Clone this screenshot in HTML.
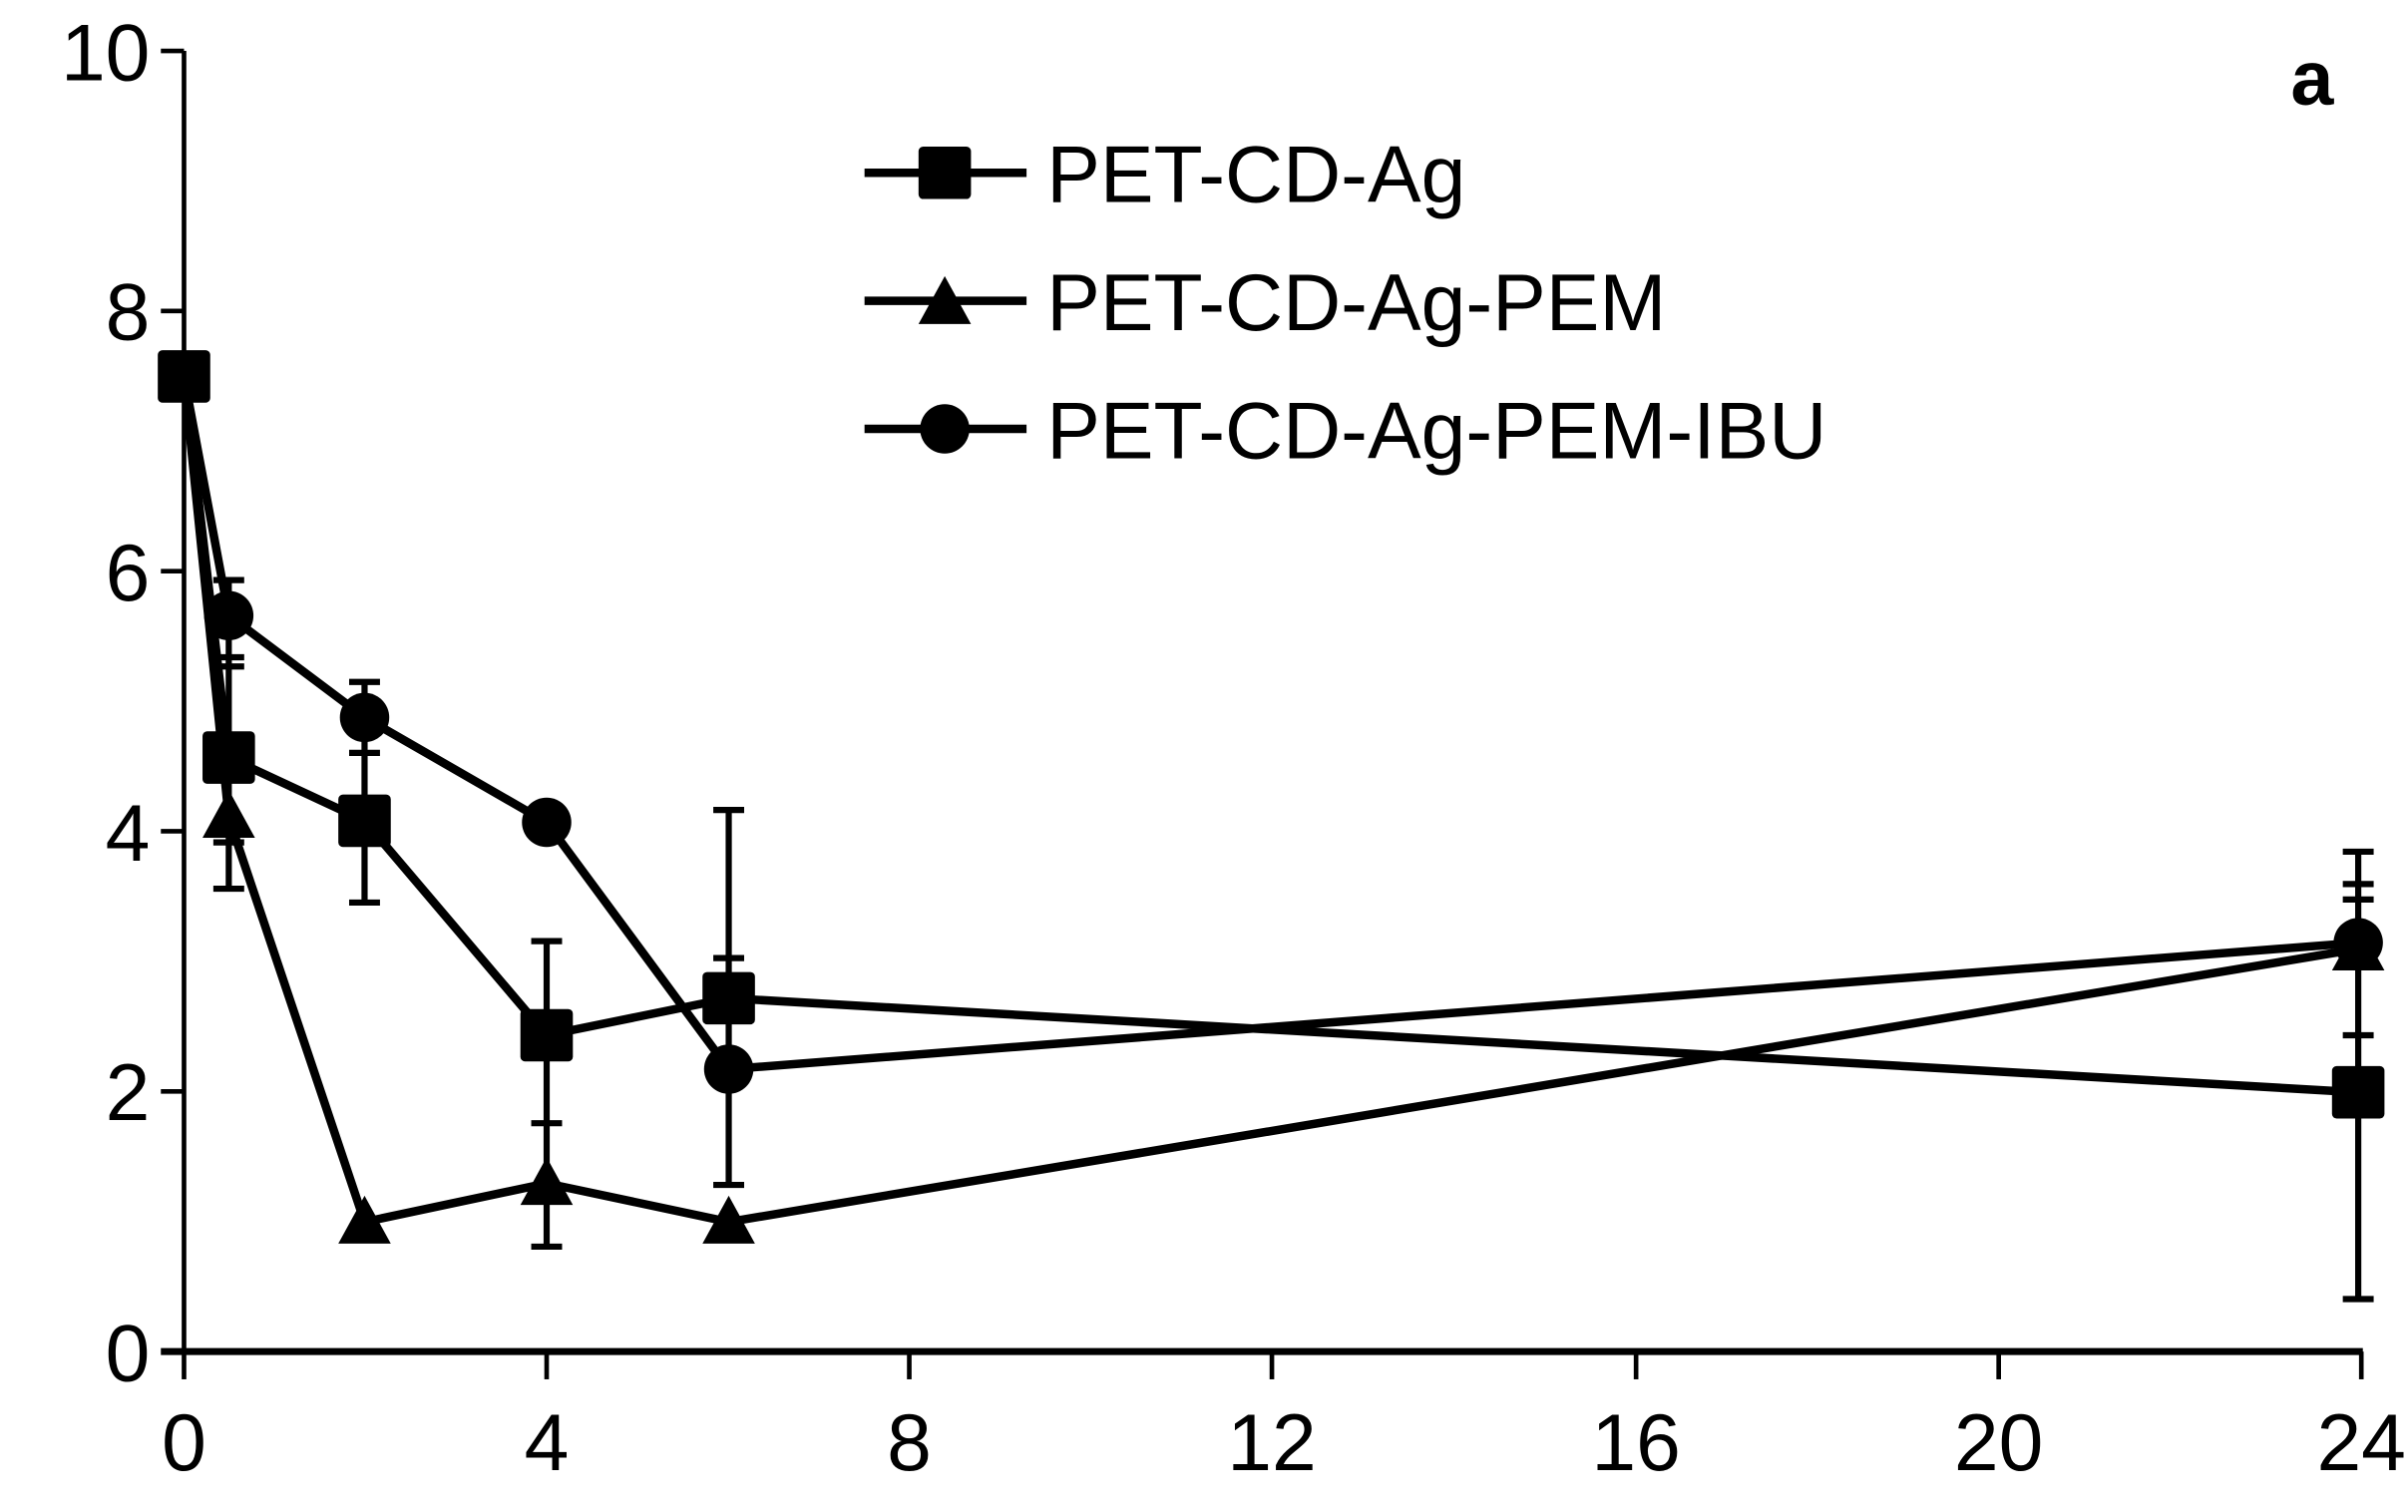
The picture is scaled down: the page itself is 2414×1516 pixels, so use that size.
<!DOCTYPE html>
<html><head><style>html,body{margin:0;padding:0;background:#fff}svg{display:block}</style></head>
<body>
<svg width="2414" height="1516" viewBox="0 0 1560 980" xmlns="http://www.w3.org/2000/svg" font-family="Liberation Sans, Arial, sans-serif">
<rect width="1560" height="980" fill="#fff"/>
<g stroke="#000" stroke-width="3" fill="none">
<line x1="119" y1="33" x2="119" y2="877"/>
<line x1="104" y1="876" x2="1531" y2="876" stroke-width="4.5"/>
<line x1="104" y1="33" x2="119" y2="33"/><line x1="104" y1="201.6" x2="119" y2="201.6"/><line x1="104" y1="370.2" x2="119" y2="370.2"/><line x1="104" y1="538.8" x2="119" y2="538.8"/><line x1="104" y1="707.4" x2="119" y2="707.4"/>
<line x1="119" y1="876" x2="119" y2="894"/><line x1="354" y1="876" x2="354" y2="894"/><line x1="589" y1="876" x2="589" y2="894"/><line x1="824" y1="876" x2="824" y2="894"/><line x1="1060" y1="876" x2="1060" y2="894"/><line x1="1295" y1="876" x2="1295" y2="894"/><line x1="1530" y1="876" x2="1530" y2="894"/>
</g>
<g font-size="52" fill="#000" text-anchor="end">
<text x="97" y="52">10</text><text x="97" y="220">8</text><text x="97" y="389">6</text><text x="97" y="558">4</text><text x="97" y="726">2</text><text x="97" y="895">0</text>
</g>
<g font-size="52" fill="#000" text-anchor="middle">
<text x="119" y="953">0</text><text x="354" y="953">4</text><text x="589" y="953">8</text><text x="824" y="953">12</text><text x="1060" y="953">16</text><text x="1295" y="953">20</text><text x="1530" y="953">24</text>
</g>
<text x="1512" y="68" font-size="50" font-weight="bold" text-anchor="end">a</text>
<g stroke="#000" stroke-width="4">
<line x1="148" y1="376" x2="148" y2="576"/>
<line x1="138" y1="376" x2="158" y2="376"/><line x1="138" y1="426" x2="158" y2="426"/><line x1="138" y1="432" x2="158" y2="432"/><line x1="138" y1="546" x2="158" y2="546"/><line x1="138" y1="576" x2="158" y2="576"/>
<line x1="236" y1="442" x2="236" y2="585"/>
<line x1="226" y1="442" x2="246" y2="442"/><line x1="226" y1="488" x2="246" y2="488"/><line x1="226" y1="585" x2="246" y2="585"/>
<line x1="354" y1="610" x2="354" y2="808"/>
<line x1="344" y1="610" x2="364" y2="610"/><line x1="344" y1="728" x2="364" y2="728"/><line x1="344" y1="808" x2="364" y2="808"/>
<line x1="472" y1="525" x2="472" y2="768"/>
<line x1="462" y1="525" x2="482" y2="525"/><line x1="462" y1="621" x2="482" y2="621"/><line x1="462" y1="768" x2="482" y2="768"/>
<line x1="1528" y1="552" x2="1528" y2="842"/>
<line x1="1518" y1="552" x2="1538" y2="552"/><line x1="1518" y1="573" x2="1538" y2="573"/><line x1="1518" y1="583" x2="1538" y2="583"/><line x1="1518" y1="671" x2="1538" y2="671"/><line x1="1518" y1="700" x2="1538" y2="700"/><line x1="1518" y1="842" x2="1538" y2="842"/>
</g>
<g stroke="#000" stroke-width="5.5" fill="none" stroke-linejoin="round">
<polyline points="119,244 148,491 236,532 354,671 472,647 1528,708"/>
<polyline points="119,244 148,530 236,792 354,767 472,792 1528,615"/>
<polyline points="119,244 148,399 236,465 354,533 472,693 1528,611"/>
</g>
<g fill="#000">
<rect x="102" y="227" width="34" height="34" rx="3"/>
<rect x="131" y="474" width="34" height="34" rx="3"/><rect x="219" y="515" width="34" height="34" rx="3"/><rect x="337" y="654" width="34" height="34" rx="3"/><rect x="455" y="630" width="34" height="34" rx="3"/><rect x="1511" y="691" width="34" height="34" rx="3"/>
<polygon points="148,512 131,543 165,543"/><polygon points="236,775 219,806 253,806"/><polygon points="354,750 337,781 371,781"/><polygon points="472,775 455,806 489,806"/><polygon points="1528,598 1511,629 1545,629"/>
<circle cx="148" cy="399" r="16"/><circle cx="236" cy="465" r="16"/><circle cx="354" cy="533" r="16"/><circle cx="472" cy="693" r="16"/><circle cx="1528" cy="611" r="16"/>
</g>
<g stroke="#000" stroke-width="5.5">
<line x1="560" y1="112" x2="665" y2="112"/><line x1="560" y1="195" x2="665" y2="195"/><line x1="560" y1="278" x2="665" y2="278"/>
</g>
<g fill="#000">
<rect x="595" y="95" width="34" height="34" rx="3"/>
<polygon points="612,179 595,210 629,210"/>
<circle cx="612" cy="278" r="16"/>
</g>
<g font-size="52" fill="#000">
<text x="678" y="131">PET-CD-Ag</text>
<text x="678" y="214">PET-CD-Ag-PEM</text>
<text x="678" y="297">PET-CD-Ag-PEM-IBU</text>
</g>
</svg>
</body></html>
